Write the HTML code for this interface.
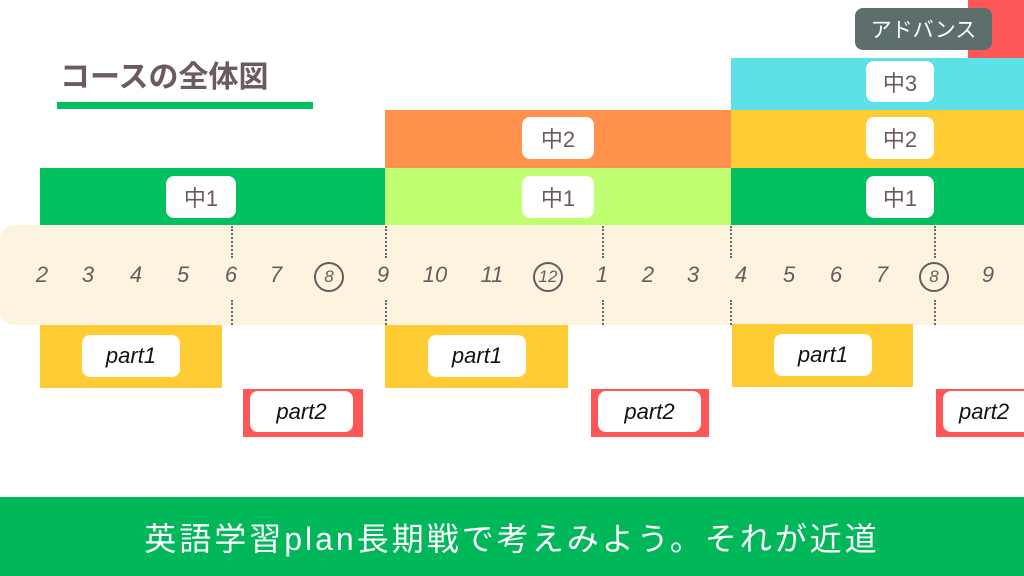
<!DOCTYPE html><html><head><meta charset="utf-8"><style>
body{margin:0;width:1024px;height:576px;position:relative;overflow:hidden;background:#fff;font-family:"Liberation Sans","Noto Sans CJK JP",sans-serif}
div{position:absolute;box-sizing:border-box}
.lbl{background:#fff;border-radius:8px;color:#6a5a5e;font-size:22px;display:flex;align-items:center;justify-content:center}
.n{top:262px;width:40px;text-align:center;color:#6a5a5e;font-size:22px;font-style:italic}
.c{display:inline-block;width:26px;height:26px;line-height:26px;border:2px solid #6a5a5e;border-radius:50%;font-size:17px;text-align:center;margin-top:-2px}
.d{width:0;border-left:2px dotted #667;}
.p{color:#111;font-size:22px;font-style:italic}
</style></head><body>
<div style="left:60px;top:52px;font-size:30px;font-weight:bold;color:#6b5a5f">コースの全体図</div>
<div style="left:57px;top:102px;width:256px;height:7px;background:#00c060"></div>
<div style="left:968px;top:0;width:56px;height:58px;background:#ff5757"></div>
<div class="lbl" style="left:855px;top:8px;width:137px;height:42px;background:#5e6e6c;color:#fff;font-size:21px">アドバンス</div>
<div style="left:731px;top:58px;width:293px;height:52px;background:#5ce1e6"></div>
<div style="left:385px;top:110px;width:346px;height:58px;background:#ff914d"></div>
<div style="left:731px;top:110px;width:293px;height:58px;background:#ffcc33"></div>
<div style="left:40px;top:168px;width:345px;height:57px;background:#00c060"></div>
<div style="left:385px;top:168px;width:346px;height:57px;background:#c1ff72"></div>
<div style="left:731px;top:168px;width:293px;height:57px;background:#00c060"></div>
<div class="lbl" style="left:866px;top:61px;width:68px;height:41px">中3</div>
<div class="lbl" style="left:522px;top:117px;width:72px;height:42px">中2</div>
<div class="lbl" style="left:866px;top:117px;width:68px;height:42px">中2</div>
<div class="lbl" style="left:166px;top:176px;width:70px;height:42px">中1</div>
<div class="lbl" style="left:522px;top:176px;width:72px;height:42px">中1</div>
<div class="lbl" style="left:866px;top:176px;width:68px;height:42px">中1</div>
<div style="left:0;top:225px;width:1024px;height:100px;background:#fdf4df;border-radius:14px 0 0 14px"></div>
<div class="n" style="left:22px">2</div><div class="n" style="left:68px">3</div><div class="n" style="left:116px">4</div><div class="n" style="left:163px">5</div><div class="n" style="left:211px">6</div><div class="n" style="left:256px">7</div><div class="n" style="left:309px"><span class="c">8</span></div><div class="n" style="left:363px">9</div><div class="n" style="left:415px">10</div><div class="n" style="left:472px">11</div><div class="n" style="left:528px"><span class="c">12</span></div><div class="n" style="left:582px">1</div><div class="n" style="left:628px">2</div><div class="n" style="left:673px">3</div><div class="n" style="left:721px">4</div><div class="n" style="left:769px">5</div><div class="n" style="left:816px">6</div><div class="n" style="left:862px">7</div><div class="n" style="left:914px"><span class="c">8</span></div><div class="n" style="left:968px">9</div>
<div class="d" style="left:231px;top:226px;height:32px"></div><div class="d" style="left:231px;top:300px;height:25px"></div>
<div class="d" style="left:385px;top:226px;height:32px"></div><div class="d" style="left:385px;top:300px;height:36px"></div>
<div class="d" style="left:602px;top:226px;height:32px"></div><div class="d" style="left:602px;top:300px;height:25px"></div>
<div class="d" style="left:730px;top:226px;height:32px"></div><div class="d" style="left:730px;top:300px;height:25px"></div>
<div class="d" style="left:934px;top:226px;height:32px"></div><div class="d" style="left:934px;top:300px;height:25px"></div>
<div style="left:40px;top:325px;width:182px;height:63px;background:#ffcc33"></div>
<div style="left:385px;top:325px;width:183px;height:63px;background:#ffcc33"></div>
<div style="left:732px;top:324px;width:181px;height:63px;background:#ffcc33"></div>
<div class="lbl p" style="left:82px;top:335px;width:98px;height:42px">part1</div>
<div class="lbl p" style="left:428px;top:335px;width:98px;height:42px">part1</div>
<div class="lbl p" style="left:774px;top:334px;width:98px;height:42px">part1</div>
<div style="left:243px;top:389px;width:120px;height:48px;background:#ff5757"></div>
<div style="left:591px;top:389px;width:118px;height:48px;background:#ff5757"></div>
<div style="left:936px;top:389px;width:88px;height:48px;background:#ff5757"></div>
<div class="lbl p" style="left:250px;top:391px;width:103px;height:41px">part2</div>
<div class="lbl p" style="left:598px;top:391px;width:103px;height:41px">part2</div>
<div class="lbl p" style="left:943px;top:391px;width:103px;height:41px;justify-content:flex-start;padding-left:16px">part2</div>
<div style="left:0;top:497px;width:1024px;height:79px;background:#00b85a;color:#fff;font-size:32px;display:flex;align-items:center;justify-content:center;letter-spacing:3px">英語学習plan長期戦で考えみよう。それが近道</div>
</body></html>
